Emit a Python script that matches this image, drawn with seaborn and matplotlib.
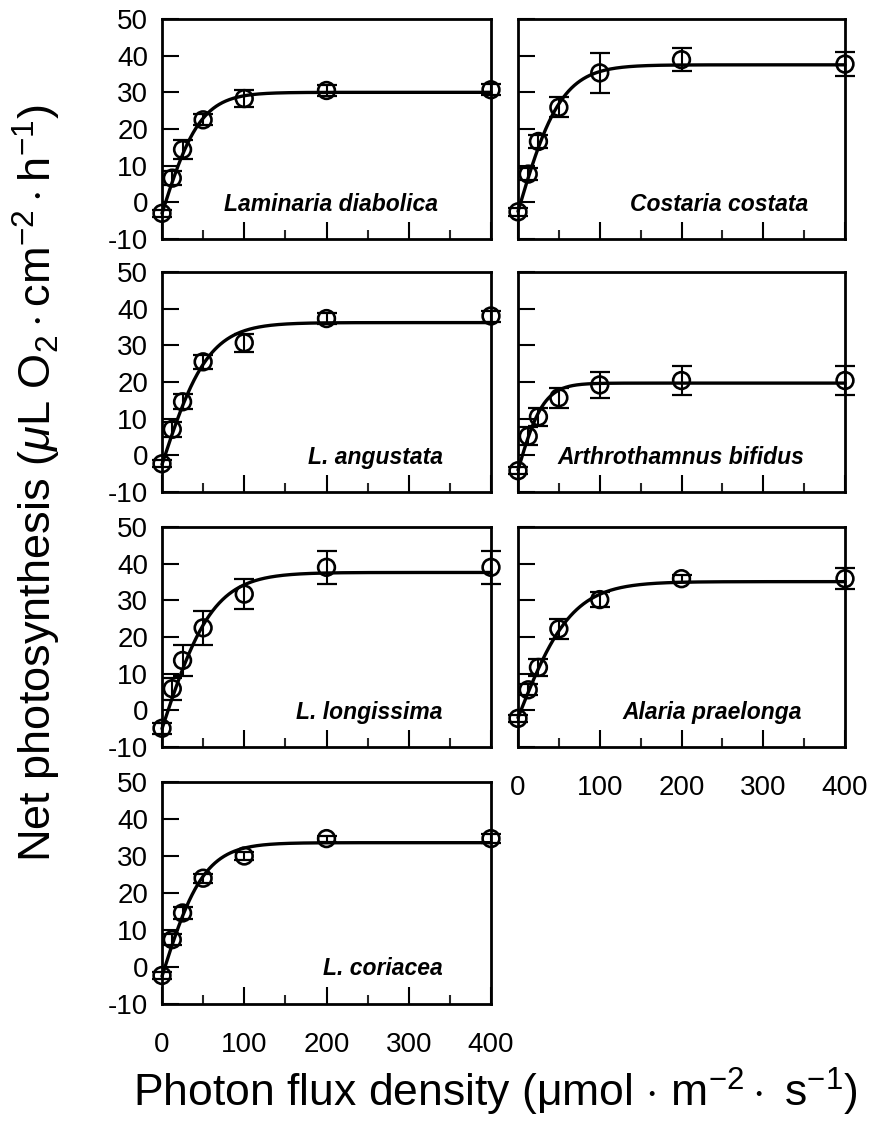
import numpy as np
import pandas as pd
import matplotlib
matplotlib.use("Agg")
import matplotlib.pyplot as plt
import seaborn as sns

# ---------------- data ----------------
pfd = [0, 12.5, 25, 50, 100, 200, 400]

species = ["Laminaria diabolica", "Costaria costata", "L. angustata",
           "Arthrothamnus bifidus", "L. longissima", "Alaria praelonga",
           "L. coriacea"]

np_lam_diab = [-3.0, 6.6, 14.4, 22.5, 28.3, 30.5, 30.7]
se_lam_diab = [1.0, 2.0, 2.5, 1.5, 2.3, 1.5, 1.5]
np_cos_cost = [-2.6, 7.7, 16.6, 25.9, 35.3, 38.9, 37.7]
se_cos_cost = [1.0, 1.7, 1.8, 2.7, 5.5, 3.2, 3.3]
np_l_ang = [-2.3, 7.1, 14.6, 25.5, 30.7, 37.3, 38.0]
se_l_ang = [1.0, 2.0, 2.0, 2.0, 2.5, 1.5, 1.5]
np_arth_bif = [-4.2, 5.2, 10.5, 15.7, 19.2, 20.4, 20.4]
se_arth_bif = [1.0, 2.5, 2.5, 2.8, 3.5, 4.0, 4.0]
np_l_long = [-4.9, 5.9, 13.6, 22.5, 31.7, 39.0, 39.0]
se_l_long = [1.5, 3.0, 4.3, 4.6, 4.1, 4.5, 4.5]
np_ala_prae = [-2.2, 5.6, 11.7, 22.2, 30.2, 35.9, 35.9]
se_ala_prae = [1.0, 1.5, 2.3, 2.8, 2.0, 1.0, 2.8]
np_l_cor = [-2.3, 7.4, 14.6, 24.0, 30.0, 34.7, 34.7]
se_l_cor = [1.0, 1.5, 1.5, 1.2, 1.0, 0.8, 1.2]

# fitted P-I curve parameters (tanh model): gross Pmax, alpha, dark respiration
fit_pmax = [33.0, 40.0, 38.7, 23.7, 42.6, 37.1, 36.1]
fit_alpha = [0.70, 0.75, 0.68, 0.75, 0.68, 0.56, 0.70]
fit_rd = [-3.0, -2.5, -2.5, -4.0, -5.0, -2.0, -2.5]

means = [np_lam_diab, np_cos_cost, np_l_ang, np_arth_bif, np_l_long, np_ala_prae, np_l_cor]
errs = [se_lam_diab, se_cos_cost, se_l_ang, se_arth_bif, se_l_long, se_ala_prae, se_l_cor]

y_ticks = [-10, 0, 10, 20, 30, 40, 50]
x_ticks = [0, 100, 200, 300, 400]
x_minor = [50, 150, 250, 350]

# ---------------- style ----------------
sns.set_theme(style="ticks")
plt.rcParams["font.family"] = ["Liberation Sans", "DejaVu Sans"]
plt.rcParams["mathtext.fontset"] = "custom"
plt.rcParams["mathtext.rm"] = "Liberation Sans"
plt.rcParams["mathtext.it"] = "Liberation Sans:italic"
plt.rcParams["mathtext.bf"] = "Liberation Sans:bold"
plt.rcParams["axes.unicode_minus"] = False

W, H = 873, 1134
fig = plt.figure(figsize=(W / 100, H / 100), dpi=100)

col_x = [(162, 491), (518, 845)]
row_y = [(19, 239), (272, 492), (527, 747), (782, 1004)]
# panel grid slots: (row, col)
slots = [(0, 0), (0, 1), (1, 0), (1, 1), (2, 0), (2, 1), (3, 0)]
label_x = [0.84, 0.887, 0.854, 0.875, 0.854, 0.869, 0.854]

for i, sp in enumerate(species):
    r, c = slots[i]
    x0, x1 = col_x[c]
    y0, y1 = row_y[r]
    ax = fig.add_axes([x0 / W, 1 - y1 / H, (x1 - x0) / W, (y1 - y0) / H])

    df = pd.DataFrame({"pfd": pfd, "np": means[i], "se": errs[i]})
    ii = np.linspace(0, 400, 801)
    curve = pd.DataFrame({
        "pfd": ii,
        "np": fit_pmax[i] * np.tanh(fit_alpha[i] * ii / fit_pmax[i]) + fit_rd[i],
    })

    sns.lineplot(data=curve, x="pfd", y="np", ax=ax, color="black", lw=2.4,
                 zorder=3, clip_on=False)
    ax.errorbar(df["pfd"], df["np"], yerr=df["se"], fmt="none", ecolor="black",
                elinewidth=1.5, capsize=7, capthick=1.6, zorder=4, clip_on=False)
    sns.scatterplot(data=df, x="pfd", y="np", ax=ax, marker="o", s=145,
                    facecolor="none", edgecolor="black", linewidth=1.9,
                    zorder=5, clip_on=False)

    ax.set_xlim(0, 400)
    ax.set_ylim(-10, 50)
    ax.set_xticks(x_ticks)
    ax.set_xticks(x_minor, minor=True)
    ax.set_yticks(y_ticks)
    ax.tick_params(which="major", direction="in", length=12, width=1.5,
                   labelsize=20, colors="black")
    ax.tick_params(axis="y", which="major", pad=10)
    ax.tick_params(axis="x", which="major", pad=20)
    ax.tick_params(which="minor", direction="in", length=6.5, width=1.5)
    for s in ax.spines.values():
        s.set_linewidth(2.0)
        s.set_color("black")
        s.set_visible(True)
    ax.set_xlabel("")
    ax.set_ylabel("")
    if c == 1:
        ax.tick_params(axis="y", labelleft=False)
    bottom = (i == 5) or (i == 6)
    if not bottom:
        ax.tick_params(axis="x", labelbottom=False)
    ax.text(label_x[i], -0.5, sp, transform=ax.get_yaxis_transform(),
            ha="right", va="center", fontsize=16.5, fontweight="bold",
            fontstyle="italic", color="black")

fig.text(37 / W, 1 - 483 / H,
         r"Net photosynthesis ($\mu$L O$_2\cdot$cm$^{-2}\cdot$h$^{-1}$)",
         rotation=90, ha="center", va="center", fontsize=32.5, color="black")
fig.text(495 / W, 1 - 1092 / H,
         r"Photon flux density (μmol $\cdot$ m$^{-2}\cdot$ s$^{-1}$)",
         ha="center", va="center", fontsize=32, color="black")

fig.savefig("out.png", dpi=100, facecolor="white")
